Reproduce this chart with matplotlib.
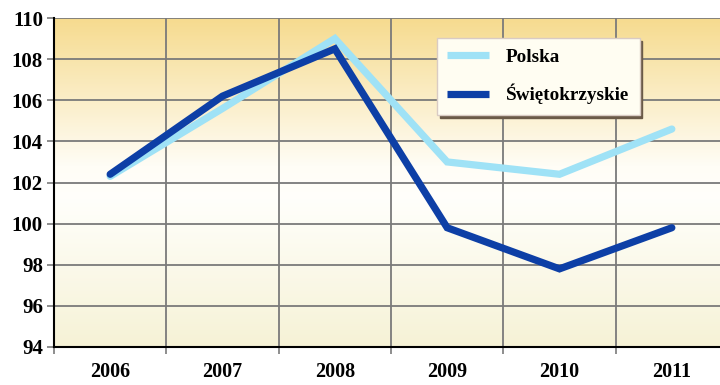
import numpy as np
import matplotlib
matplotlib.use("Agg")
import matplotlib.pyplot as plt
from matplotlib.colors import LinearSegmentedColormap

years = ["2006", "2007", "2008", "2009", "2010", "2011"]
polska = [102.3, 105.6, 109.0, 103.0, 102.4, 104.6]
swietokrzyskie = [102.4, 106.2, 108.5, 99.8, 97.8, 99.8]
y_ticks = [94, 96, 98, 100, 102, 104, 106, 108, 110]

plt.rcParams["font.family"] = ["Liberation Serif", "DejaVu Serif"]
plt.rcParams["font.weight"] = "bold"

fig = plt.figure(figsize=(7.2, 3.85), dpi=100)
ax = fig.add_axes([54 / 720, 1 - 347 / 385, 674 / 720, 329 / 385])

x = np.arange(len(years))
ax.set_xlim(-0.5, len(years) - 0.5)
ax.set_ylim(94, 110)

# Golden-to-cream vertical gradient behind the plot
bg = LinearSegmentedColormap.from_list(
    "bg", [(0.0, "#f6f2d6"), (0.45, "#fffffb"), (0.55, "#fffdf6"), (1.0, "#f6db8f")]
)
grad = np.linspace(0, 1, 256).reshape(-1, 1)
ax.imshow(grad, cmap=bg, aspect="auto", origin="lower",
          extent=(-0.5, len(years) - 0.5, 94, 110), zorder=0)

# Grid at category boundaries and y ticks
ax.set_xticks(x)
ax.set_xticks(np.arange(-0.5, len(years)), minor=True)
ax.set_xticklabels(years)
ax.set_yticks(y_ticks)
ax.grid(True, which="minor", axis="x", color="#7a7a7a", lw=1.3, zorder=1)
ax.grid(True, which="major", axis="y", color="#7a7a7a", lw=1.3, zorder=1)
ax.tick_params(axis="x", which="major", length=0, pad=11, labelsize=14.5)
ax.tick_params(axis="x", which="minor", length=5, width=1.2, color="#7a7a7a", direction="out")
ax.tick_params(axis="y", length=5, width=1.2, color="#7a7a7a", pad=3, labelsize=15)

for s in ["top", "right"]:
    ax.spines[s].set_visible(False)
for s in ["left", "bottom"]:
    ax.spines[s].set_color("black")
    ax.spines[s].set_linewidth(1.5)
    ax.spines[s].set_zorder(3)

ax.plot(x, polska, color="#9fe2f6", lw=5.2, solid_capstyle="round",
        solid_joinstyle="miter", zorder=4, label="Polska")
ax.plot(x, swietokrzyskie, color="#0d3fa6", lw=5.2, solid_capstyle="round",
        solid_joinstyle="miter", zorder=5, label="Świętokrzyskie")

leg = ax.legend(loc="upper left", bbox_to_anchor=(0.568, 0.94), frameon=True,
                fancybox=False, shadow={"color": "#6b5a48", "alpha": 1.0},
                prop={"size": 13.8, "weight": "bold"}, handlelength=2.15,
                handletextpad=0.9, labelspacing=0.95, borderpad=0.55,
                borderaxespad=0)
for h in leg.get_lines():
    h.set_solid_capstyle("butt")
leg.get_frame().set_facecolor("#fffdf2")
leg.get_frame().set_edgecolor("#d9cbc4")
leg.get_frame().set_linewidth(1.0)
leg.get_frame().set_alpha(1.0)

fig.savefig("out.png", dpi=100)
